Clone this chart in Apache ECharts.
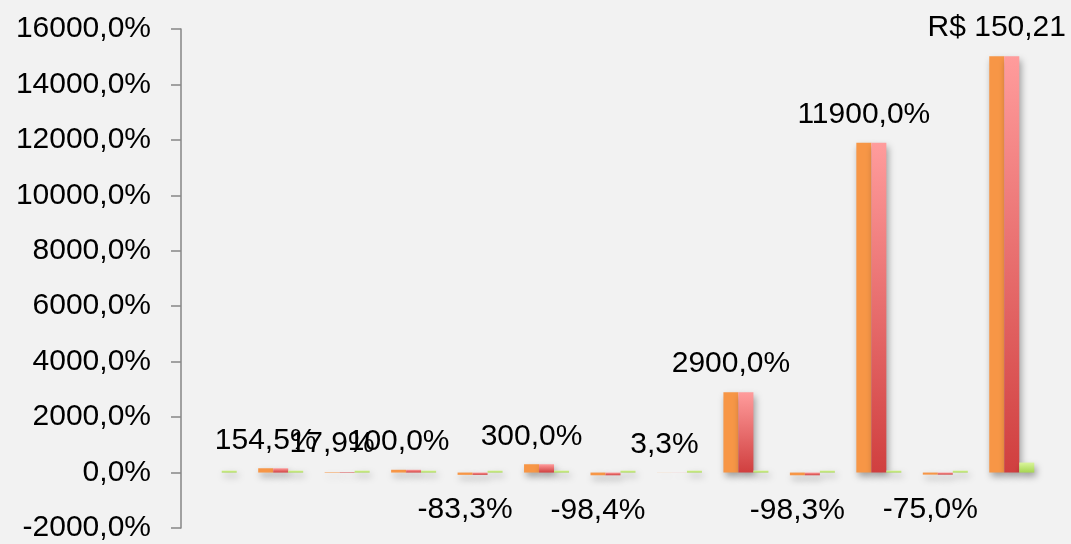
<!DOCTYPE html>
<html>
<head>
<meta charset="utf-8">
<script src="https://cdn.jsdelivr.net/npm/echarts@6/dist/echarts.min.js"></script>
<style>
html,body{margin:0;padding:0;background:#f2f2f2;}
#c{width:1071px;height:544px;}
</style>
</head>
<body>
<div id="c"></div>
<script>
const categories = ['1','2','3','4','5','6','7','8','9','10','11','12','13'];
const orangeValues = [null, 154.5, 17.9, 100, -83.3, 300, -98.4, 3.3, 2900, -98.3, 11900, -75, 15021];
const redValues    = [null, 154.5, 17.9, 100, -83.3, 300, -98.4, 3.3, 2900, -98.3, 11900, -75, 15021];
const greenValues  = [70, 70, 70, 70, 70, 70, 70, 70, 70, 70, 70, 70, 360];
const labelTexts   = ['', '154,5%', '17,9%', '100,0%', '-83,3%', '300,0%', '-98,4%', '3,3%', '2900,0%', '-98,3%', '11900,0%', '-75,0%', 'R$ 150,21'];
const yTicks = { min: -2000, max: 16000, interval: 2000 };

const font = '"Liberation Sans", Arial, sans-serif';
const shadow = { shadowColor: 'rgba(0,0,0,0.35)', shadowBlur: 7, shadowOffsetX: 2, shadowOffsetY: 4 };

const orangeData = orangeValues.map((v, i) => ({
  value: v,
  label: {
    show: v !== null,
    position: v !== null && v < 0 ? 'bottom' : 'top',
    distance: v !== null && v < 0 ? 20 : 13,
    formatter: () => labelTexts[i]
  }
}));

const chart = echarts.init(document.getElementById('c'));
chart.setOption({
  backgroundColor: '#f2f2f2',
  animation: false,
  grid: { left: 181, top: 29, width: 864, height: 499 },
  xAxis: {
    type: 'category',
    data: categories,
    show: false
  },
  yAxis: {
    type: 'value',
    min: yTicks.min, max: yTicks.max, interval: yTicks.interval,
    axisLine: { show: true, lineStyle: { color: '#868686', width: 1.5 } },
    axisTick: { show: true, length: 10, lineStyle: { color: '#868686', width: 1.5 } },
    splitLine: { show: false },
    axisLabel: {
      margin: 30,
      color: '#000',
      fontFamily: font,
      fontSize: 30,
      formatter: v => v.toFixed(1).replace('.', ',') + '%'
    }
  },
  series: [
    {
      type: 'bar', barWidth: 15, barGap: '0%',
      data: orangeData,
      itemStyle: Object.assign({ color: '#f79646' }, shadow),
      label: { color: '#000', fontFamily: font, fontSize: 30 }
    },
    {
      type: 'bar', barWidth: 15, barGap: '0%',
      data: redValues,
      itemStyle: Object.assign({
        color: new echarts.graphic.LinearGradient(0, 0, 0, 1, [
          { offset: 0, color: '#ff9c9c' },
          { offset: 1, color: '#d03f3f' }
        ])
      }, shadow)
    },
    {
      type: 'bar', barWidth: 15, barGap: '0%',
      data: greenValues,
      itemStyle: Object.assign({
        color: new echarts.graphic.LinearGradient(0, 0, 0, 1, [
          { offset: 0, color: '#daf59c' },
          { offset: 1, color: '#a6d651' }
        ])
      }, shadow)
    }
  ]
});
</script>
</body>
</html>
